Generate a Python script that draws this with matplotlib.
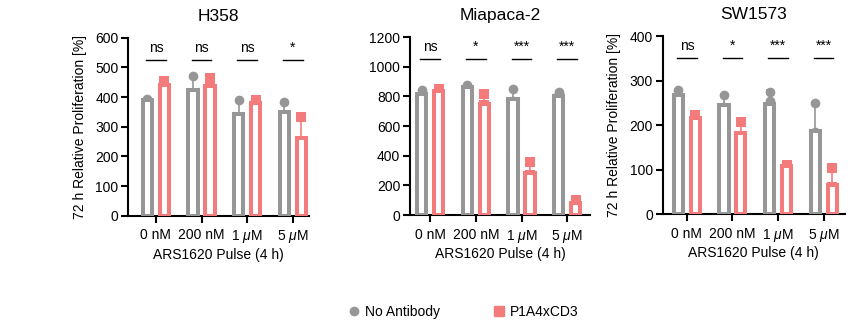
import matplotlib.pyplot as plt
from matplotlib.lines import Line2D
import numpy as np

plt.rcParams['font.family'] = ['Liberation Sans', 'DejaVu Sans']
plt.rcParams['mathtext.fontset'] = 'custom'
plt.rcParams['mathtext.it'] = 'Liberation Sans:italic'

doses = ['0 nM', '200 nM', '1 $\\mathit{\\mu}$M', '5 $\\mathit{\\mu}$M']
cell_lines = ['H358', 'Miapaca-2', 'SW1573']

# replicate values, one list of 3 per dose
h358_none = [[395, 390, 385], [472, 400, 395], [390, 330, 309], [382, 340, 330]]
h358_p1a4 = [[455, 440, 430], [465, 440, 410], [390, 385, 360], [333, 245, 212]]
mia_none = [[840, 810, 790], [875, 860, 850], [847, 770, 730], [830, 815, 760]]
mia_p1a4 = [[850, 830, 825], [815, 740, 690], [359, 270, 220], [100, 80, 65]]
sw_none = [[278, 265, 258], [267, 240, 230], [275, 255, 215], [250, 185, 125]]
sw_p1a4 = [[222, 215, 210], [206, 170, 168], [110, 107, 105], [103, 60, 32]]

sig = {
    'H358': ['ns', 'ns', 'ns', '*'],
    'Miapaca-2': ['ns', '*', '***', '***'],
    'SW1573': ['ns', '*', '***', '***'],
}
ymax = {'H358': 600, 'Miapaca-2': 1200, 'SW1573': 400}
ystep = {'H358': 100, 'Miapaca-2': 200, 'SW1573': 100}

gray = '#969696'
red = '#F47B7B'

fig = plt.figure(figsize=(8.54, 3.22), dpi=100)
boxes = [[0.150, 0.330, 0.212, 0.553],
         [0.480, 0.332, 0.211, 0.553],
         [0.776, 0.335, 0.213, 0.553]]
xlims = [(-0.61, 3.36), (-0.44, 3.50), (-0.53, 3.46)]
data = [(h358_none, h358_p1a4), (mia_none, mia_p1a4), (sw_none, sw_p1a4)]

x = np.arange(len(doses))
off = 0.186
w = 0.20

for i, name in enumerate(cell_lines):
    ax = fig.add_axes(boxes[i])
    for vals, dx, col, mk in [(data[i][0], -off, gray, 'o'), (data[i][1], off, red, 's')]:
        arr = np.array(vals, dtype=float)
        m = arr.mean(axis=1)
        sd = arr.std(axis=1, ddof=1)
        ax.errorbar(x + dx, m, yerr=[np.zeros_like(sd), sd], fmt='none',
                    ecolor=col, elinewidth=1.2, capsize=3, capthick=1.2, zorder=1)
        for j in range(len(x)):
            ax.plot([x[j] + dx] * arr.shape[1], arr[j], mk, color=col,
                    markersize=7 if mk == 'o' else 6.5, markeredgewidth=0, zorder=2)
        ax.bar(x + dx, m, width=w, facecolor='white', edgecolor=col,
               linewidth=2.9, zorder=3)

    top = ymax[name]
    for j, s in enumerate(sig[name]):
        yl = top * 0.875
        ax.plot([x[j] - off - 0.03, x[j] + off + 0.03], [yl, yl], color='black', lw=1)
        ax.text(x[j], yl + top * 0.03, s, ha='center', va='bottom', fontsize=10)

    ax.set_ylim(0, top)
    ax.set_yticks(np.arange(0, top + 1, ystep[name]))
    ax.set_xlim(*xlims[i])
    ax.set_xticks(x)
    ax.set_xticklabels(doses, fontsize=10)
    ax.tick_params(axis='y', labelsize=10, width=1.5, length=5, pad=2)
    ax.tick_params(axis='x', width=1.5, length=5, pad=4)
    for sp in ['top', 'right']:
        ax.spines[sp].set_visible(False)
    for sp in ['left', 'bottom']:
        ax.spines[sp].set_linewidth(1.5)
    ax.set_title(name, fontsize=12.5, pad=12)
    ax.set_xlabel('ARS1620 Pulse (4 h)', fontsize=10, labelpad=2)
    if name != 'Miapaca-2':
        ax.set_ylabel('72 h Relative Proliferation [%]', fontsize=10, labelpad=6)

handles = [Line2D([], [], marker='o', color=gray, linestyle='none', markersize=6),
           Line2D([], [], marker='s', color=red, linestyle='none', markersize=6.5)]
fig.legend(handles, ['No Antibody', 'P1A4xCD3'], loc='center',
           bbox_to_anchor=(0.541, 0.03), ncol=2, frameon=False, fontsize=10,
           columnspacing=3.6, handletextpad=0.2, handlelength=1.2)

fig.savefig('out.png', dpi=100)
